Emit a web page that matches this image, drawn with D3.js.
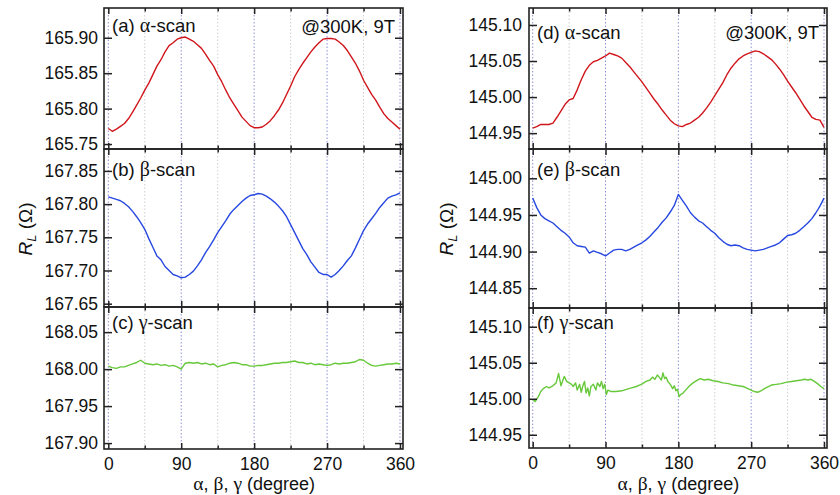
<!DOCTYPE html>
<html lang="en">
<head>
<meta charset="utf-8">
<script src="https://cdn.jsdelivr.net/npm/d3@7"></script>
<style>
  body { margin: 0; background: #fff; }
  text { font-family: "Liberation Sans", Arial, Helvetica, sans-serif; fill: #111; }
  .greek { font-family: "Liberation Serif", "Times New Roman", serif; }
</style>
</head>
<body>
<script>
// rotation angle in degree, shared by the 5-degree scans
const angles = [0,5,10,15,20,25,30,35,40,45,50,55,60,65,70,75,80,85,90,95,100,105,110,115,120,125,130,135,140,145,150,155,160,165,170,175,180,185,190,195,200,205,210,215,220,225,230,235,240,245,250,255,260,265,270,275,280,285,290,295,300,305,310,315,320,325,330,335,340,345,350,355,360];

// left sample (a, b, c)
const alphaLeft = [165.772,165.768,165.771,165.775,165.779,165.786,165.795,165.805,165.815,165.826,165.836,165.848,165.860,165.869,165.880,165.889,165.893,165.898,165.900,165.901,165.898,165.895,165.890,165.885,165.877,165.868,165.860,165.848,165.838,165.826,165.815,165.806,165.797,165.788,165.782,165.776,165.773,165.773,165.774,165.778,165.783,165.790,165.798,165.808,165.820,165.832,165.845,165.855,165.864,165.872,165.880,165.887,165.893,165.898,165.899,165.899,165.898,165.894,165.889,165.882,165.873,165.864,165.853,165.840,165.830,165.820,165.812,165.802,165.793,165.786,165.781,165.776,165.771];
const betaLeft = [167.811,167.809,167.807,167.805,167.801,167.796,167.789,167.781,167.772,167.762,167.748,167.735,167.722,167.716,167.706,167.700,167.694,167.692,167.689,167.690,167.694,167.699,167.707,167.716,167.727,167.736,167.746,167.757,167.766,167.775,167.785,167.792,167.798,167.804,167.809,167.813,167.814,167.816,167.815,167.812,167.808,167.803,167.797,167.790,167.781,167.769,167.757,167.745,167.733,167.724,167.713,167.705,167.697,167.694,167.694,167.690,167.694,167.700,167.707,167.715,167.722,167.734,167.747,167.760,167.770,167.778,167.786,167.795,167.802,167.809,167.812,167.814,167.817];
const gammaLeft = [168.004,168.002,168.001,168.003,168.003,168.005,168.007,168.009,168.012,168.008,168.007,168.006,168.007,168.005,168.006,168.004,168.005,168.003,168.000,168.008,168.009,168.008,168.009,168.007,168.008,168.006,168.007,168.003,168.005,168.006,168.008,168.009,168.008,168.006,168.006,168.004,168.004,168.005,168.005,168.006,168.007,168.008,168.008,168.009,168.009,168.010,168.011,168.009,168.009,168.007,168.008,168.006,168.007,168.006,168.005,168.006,168.008,168.007,168.008,168.008,168.009,168.010,168.013,168.012,168.008,168.005,168.004,168.005,168.006,168.007,168.007,168.008,168.007];

// right sample (d, e, f)
const alphaRight = [144.957,144.959,144.962,144.962,144.962,144.964,144.972,144.981,144.990,144.996,144.998,145.010,145.024,145.036,145.044,145.049,145.051,145.054,145.057,145.061,145.059,145.057,145.054,145.048,145.042,145.035,145.028,145.021,145.013,145.005,144.997,144.990,144.982,144.975,144.968,144.963,144.960,144.959,144.962,144.964,144.968,144.972,144.978,144.985,144.993,145.002,145.011,145.020,145.031,145.040,145.047,145.053,145.057,145.060,145.062,145.064,145.063,145.060,145.056,145.052,145.046,145.039,145.031,145.022,145.014,145.006,144.997,144.988,144.980,144.972,144.969,144.968,144.958];
const betaRight = [144.973,144.960,144.950,144.945,144.942,144.939,144.934,144.929,144.925,144.920,144.912,144.908,144.907,144.906,144.898,144.901,144.899,144.897,144.894,144.898,144.902,144.903,144.903,144.901,144.903,144.906,144.909,144.912,144.916,144.921,144.927,144.933,144.940,144.946,144.954,144.963,144.978,144.970,144.962,144.953,144.947,144.942,144.939,144.934,144.929,144.925,144.919,144.914,144.910,144.908,144.909,144.908,144.905,144.903,144.902,144.901,144.902,144.903,144.905,144.907,144.909,144.912,144.917,144.922,144.923,144.925,144.929,144.934,144.939,144.945,144.953,144.962,144.973];
// gamma scan of the right sample is noisier, read at its own angles
const gammaRight = [[0,144.999],[3,144.996],[7,145.003],[10,145.010],[13,145.014],[17,145.017],[20,145.015],[25,145.018],[29,145.022],[32,145.035],[35,145.018],[37,145.025],[39,145.031],[42,145.024],[45,145.022],[48,145.020],[50,145.017],[53,145.022],[55,145.012],[58,145.020],[60,145.009],[62,145.018],[64,145.024],[66,145.008],[68,145.015],[70,145.004],[72,145.017],[75,145.020],[78,145.012],[80,145.022],[83,145.017],[85,145.024],[87,145.014],[89,145.020],[91,145.006],[93,145.012],[97,145.010],[103,145.010],[110,145.011],[116,145.013],[122,145.015],[128,145.017],[132,145.019],[136,145.021],[140,145.024],[145,145.026],[148,145.030],[151,145.027],[154,145.033],[157,145.029],[159,145.026],[161,145.036],[163,145.028],[165,145.030],[167,145.024],[170,145.020],[173,145.014],[175,145.018],[177,145.011],[179,145.013],[181,145.003],[183,145.006],[185,145.007],[189,145.012],[193,145.017],[197,145.021],[201,145.024],[207,145.028],[212,145.026],[217,145.027],[223,145.025],[229,145.024],[235,145.022],[242,145.021],[248,145.019],[254,145.018],[260,145.017],[266,145.014],[270,145.012],[274,145.010],[278,145.009],[282,145.011],[288,145.015],[295,145.019],[301,145.020],[307,145.021],[314,145.023],[320,145.024],[326,145.025],[332,145.026],[336,145.027],[340,145.026],[344,145.027],[348,145.024],[352,145.021],[356,145.017],[360,145.014]];

// tick labels
const xTickLabels = [0, 90, 180, 270, 360];
const xMinor = [45, 135, 225, 315];
const gridDeg = [0, 45, 90, 135, 180, 225, 270, 315, 360];
const ticksA = [165.75, 165.80, 165.85, 165.90];
const ticksB = [167.65, 167.70, 167.75, 167.80, 167.85];
const ticksC = [167.90, 167.95, 168.00, 168.05];
const ticksD = [144.95, 145.00, 145.05, 145.10];
const ticksE = [144.85, 144.90, 144.95, 145.00];
const ticksF = [144.95, 145.00, 145.05, 145.10];

const red = "#d0161c", blue = "#2748e0", green = "#66c83a";

const W = 840, H = 495;
const svg = d3.select("body").append("svg")
    .attr("width", W)
    .attr("height", H);

const cols = [
    { x0: 104, x1: 403, r0: 108.3, r1: 400, lab: 98, ylab: 32, pad: 6 },
    { x0: 529, x1: 827, r0: 532.7, r1: 824, lab: 522, ylab: 453, pad: 7 }
];
cols.forEach(c => c.x = d3.scaleLinear().domain([0, 360]).range([c.r0, c.r1]));

const zip = arr => angles.map((a, i) => [a, arr[i]]);

const panels = [
    { c: 0, y0: 8,   y1: 149, dom: [165.743, 165.942], ticks: ticksA, data: zip(alphaLeft),  color: red,   tag: "(a) ", g: "α", ty: 32, note: 33 },
    { c: 0, y0: 149, y1: 307, dom: [167.645, 167.883], ticks: ticksB, data: zip(betaLeft),   color: blue,  tag: "(b) ", g: "β", ty: 176 },
    { c: 0, y0: 307, y1: 449, dom: [167.892, 168.084], ticks: ticksC, data: zip(gammaLeft),  color: green, tag: "(c) ", g: "γ", ty: 329 },
    { c: 1, y0: 8,   y1: 149, dom: [144.928, 145.1235], ticks: ticksD, data: zip(alphaRight), color: red,  tag: "(d) ", g: "α", ty: 39, note: 39 },
    { c: 1, y0: 149, y1: 308, dom: [144.823, 145.040], ticks: ticksE, data: zip(betaRight),  color: blue,  tag: "(e) ", g: "β", ty: 176 },
    { c: 1, y0: 308, y1: 448, dom: [144.9316, 145.126], ticks: ticksF, data: gammaRight,     color: green, tag: "(f) ", g: "γ", ty: 329 }
];

const fmt = d3.format(".2f");

panels.forEach(p => {
    const col = cols[p.c];
    const x = col.x;
    const y = d3.scaleLinear().domain(p.dom).range([p.y1, p.y0]);
    const g = svg.append("g");

    // dotted guide lines every 45 degree
    g.selectAll("line.grid")
        .data(gridDeg)
        .join("line")
        .attr("x1", d => x(d)).attr("x2", d => x(d))
        .attr("y1", p.y0).attr("y2", p.y1)
        .attr("stroke", d => d % 90 === 0 ? "#8f8fd6" : "#cfcfcf")
        .attr("stroke-width", 1)
        .attr("stroke-dasharray", "1.5,2");

    // data curve
    const line = d3.line().x(d => x(d[0])).y(d => y(d[1]));
    g.append("path")
        .datum(p.data)
        .attr("d", line)
        .attr("fill", "none")
        .attr("stroke", p.color)
        .attr("stroke-width", 1.4)
        .attr("stroke-linejoin", "round");

    // y axes, ticks inward on both sides
    const left = g.append("g")
        .attr("transform", `translate(${col.x0},0)`)
        .call(d3.axisLeft(y).tickValues(p.ticks).tickFormat(fmt).tickSizeInner(-8).tickSizeOuter(0).tickPadding(col.pad));
    const right = g.append("g")
        .attr("transform", `translate(${col.x1},0)`)
        .call(d3.axisRight(y).tickValues(p.ticks).tickFormat("").tickSizeInner(-8).tickSizeOuter(0));

    // x ticks on top and bottom of every panel
    const top = g.append("g").attr("transform", `translate(0,${p.y0})`)
        .call(d3.axisTop(x).tickValues(xTickLabels).tickFormat("").tickSizeInner(-6).tickSizeOuter(0));
    const topMinor = g.append("g").attr("transform", `translate(0,${p.y0})`)
        .call(d3.axisTop(x).tickValues(xMinor).tickFormat("").tickSizeInner(-3.5).tickSizeOuter(0));
    const bottom = g.append("g").attr("transform", `translate(0,${p.y1})`)
        .call(d3.axisBottom(x).tickValues(xTickLabels).tickSizeInner(-6).tickSizeOuter(0).tickPadding(9)
            .tickFormat(p.y1 > 440 ? d => d : ""));
    const bottomMinor = g.append("g").attr("transform", `translate(0,${p.y1})`)
        .call(d3.axisBottom(x).tickValues(xMinor).tickFormat("").tickSizeInner(-3.5).tickSizeOuter(0));

    [left, right, top, topMinor, bottom, bottomMinor].forEach(a => {
        a.select(".domain").remove();
        a.selectAll(".tick line").attr("stroke", "#222").attr("stroke-width", 1.5);
        a.selectAll(".tick text").attr("font-size", 17.5).attr("fill", "#111")
            .style("font-family", '"Liberation Sans", Arial, sans-serif');
    });

    // frame
    g.append("rect")
        .attr("x", col.x0).attr("y", p.y0)
        .attr("width", col.x1 - col.x0).attr("height", p.y1 - p.y0)
        .attr("fill", "none")
        .attr("stroke", "#222")
        .attr("stroke-width", 1.6);

    // panel label
    const t = g.append("text")
        .attr("x", col.x0 + 8)
        .attr("y", p.ty)
        .attr("font-size", 18.5);
    t.append("tspan").text(p.tag);
    t.append("tspan").attr("class", "greek").attr("font-size", 20).text(p.g);
    t.append("tspan").text("-scan");

    if (p.note) {
        g.append("text")
            .attr("x", col.x1 - 8)
            .attr("y", p.note)
            .attr("text-anchor", "end")
            .attr("font-size", 18.5)
            .text("@300K, 9T");
    }
});

// axis titles
cols.forEach(col => {
    const xt = svg.append("text")
        .attr("x", (col.r0 + col.r1) / 2)
        .attr("y", 490)
        .attr("text-anchor", "middle")
        .attr("font-size", 18);
    xt.append("tspan").attr("class", "greek").attr("font-size", 19.5).text("α");
    xt.append("tspan").text(", ");
    xt.append("tspan").attr("class", "greek").attr("font-size", 19.5).text("β");
    xt.append("tspan").text(", ");
    xt.append("tspan").attr("class", "greek").attr("font-size", 19.5).text("γ");
    xt.append("tspan").text(" (degree)");

    const yt = svg.append("text")
        .attr("transform", `translate(${col.ylab},229) rotate(-90)`)
        .attr("text-anchor", "middle")
        .attr("font-size", 19);
    yt.append("tspan").attr("font-style", "italic").text("R");
    yt.append("tspan").attr("font-style", "italic").attr("font-size", 13).attr("dy", 4).text("L");
    yt.append("tspan").attr("dy", -4).text(" (Ω)");
});
</script>
</body>
</html>
